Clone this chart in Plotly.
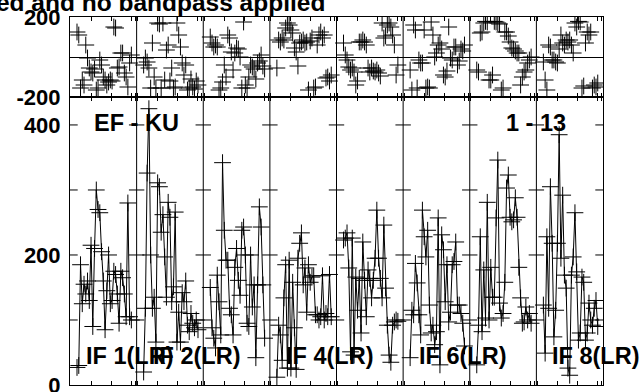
import plotly.graph_objects as go
import numpy as np

# amplitude per channel, one list per IF
amp_if1 = [27, 30, 185, 125, 155, 140, 160, 130, 215, 90, 210, 300, 270, 265, 205, 160,
           85, 145, 200, 125, 130, 175, 170, 140, 95, 175, 165, 140, 105, 280, 105, 100]
amp_if2 = [20, 118, 326, 425, 200, 118, 135, 66, 311, 305, 235, 262, 197, 135, 281, 258,
           128, 151, 266, 66, 112, 66, 142, 128, 160, 92, 82, 110, 95, 88, 100, 85]
amp_if3 = [150, 88, 72, 57, 169, 128, 77, 342, 238, 192, 192, 118, 108, 77, 181, 210,
           161, 138, 238, 243, 200, 95, 90, 200, 120, 154, 42, 154, 274, 243, 154, 72]
amp_if4 = [12, 92, 77, 38, 134, 185, 26, 192, 26, 158, 88, 24, 195, 218, 234, 154,
           180, 112, 185, 158, 166, 168, 108, 108, 100, 105, 168, 100, 110, 105, 170, 105]
amp_if5 = [223, 226, 234, 180, 51, 226, 46, 166, 115, 164, 80, 220, 161, 105, 177, 164,
           134, 161, 195, 269, 195, 164, 134, 246, 149, 92, 46, 35, 92, 97, 100, 98]
amp_if6 = [42, 115, 108, 187, 157, 108, 77, 269, 228, 197, 238, 123, 80, 92, 62, 82,
           257, 31, 231, 208, 128, 185, 97, 112, 185, 190, 220, 123, 123, 110, 95, 60]
amp_if7 = [31, 92, 228, 82, 177, 103, 281, 100, 181, 135, 135, 257, 346, 126, 103, 110,
           158, 303, 323, 258, 251, 254, 288, 258, 181, 134, 95, 97, 120, 100, 110, 95]
amp_if8 = [123, 49, 228, 118, 305, 218, 74, 115, 218, 385, 195, 292, 169, 149, 26, 15,
           169, 197, 265, 174, 69, 80, 166, 158, 69, 80, 126, 100, 92, 118, 130, 90]

# phase per channel (degrees)
ph_if1 = [125, 110, -155, -115, -140, 60, -5, -55, -75, -80, -60, -165, -155, -15, -40, -100,
          -115, -140, -125, -115, -120, 150, 145, -55, -50, 20, 20, -80, -100, -150, -30, 10]
ph_if2 = [-40, -5, -25, -55, -155, 70, -100, -155, 170, 165, -155, 170, -115, 35, 60, -120,
          -55, -155, -150, 170, 110, 50, -30, -90, -40, -165, -155, -110, -150, -160, -120, -140]
ph_if3 = [100, 70, 50, 60, 50, -165, -155, -125, -40, -100, 110, 95, 25, -65, 20, 45,
          40, 0, -155, 175, -140, -155, -100, -40, -50, -60, -110, -30, -20, 10, -45, -60]
ph_if4 = [-55, 85, 75, 95, 85, 145, 170, 160, 135, 120, 45, 25, -45, 70, 75, 85,
          70, 75, -165, 80, 95, -155, -150, 60, 110, 125, 95, 110, -105, -100, -120, -90]
ph_if5 = [70, 10, -15, -50, -65, -55, -75, -140, -120, 75, 75, 85, 75, 60, -55, -75,
          -55, -70, -75, -65, -80, -95, 170, 95, 105, 160, 170, 150, 110, 60, -90, -40]
ph_if6 = [-65, -165, 160, 135, -155, -15, -30, -30, 135, -155, -150, -155, 175, 110, 0, 20,
          60, 70, 40, -90, -100, -70, 150, -5, -15, 50, 50, -40, -20, 40, 30, 60]
ph_if7 = [-65, -75, 120, 125, 170, 178, 175, -115, -115, -90, 178, 175, 170, 165, -165, -155,
          125, 125, 105, 75, 45, 40, 30, 20, 20, -140, -100, -75, -65, -30, -15, 0]
ph_if8 = [-25, -115, -165, 60, 50, -15, -15, -25, -30, 40, 110, 70, 60, 85, 75, 85,
          60, 20, 170, 150, 178, 175, -155, -145, 70, 125, 110, 125, -155, -140, -150, -130]

amps = [amp_if1, amp_if2, amp_if3, amp_if4, amp_if5, amp_if6, amp_if7, amp_if8]
phases = [ph_if1, ph_if2, ph_if3, ph_if4, ph_if5, ph_if6, ph_if7, ph_if8]
if_labels = ["IF 1(LR)", "IF 2(LR)", "", "IF 4(LR)", "", "IF 6(LR)", "", "IF 8(LR)"]
amp_ticks = [100, 200, 300, 400]

nif = len(amps)
nchan = len(amp_if1)
W = 38.0      # x units per IF box
off = 4       # first channel offset inside box
panel_px = 533 / nif

font = dict(family="Liberation Sans, Arial, sans-serif", size=22, color="black", weight="bold")
label_font = dict(font, size=23.5)
title_font = dict(font, size=24.5)
cross = dict(symbol="cross-thin", size=12, color="black", line=dict(color="black", width=1))

fig = go.Figure()

for i in range(nif):
    x = i * W + off + np.arange(nchan)
    fig.add_trace(go.Scatter(x=x, y=amps[i], mode="lines+markers",
                             line=dict(color="black", width=1), marker=cross,
                             xaxis="x", yaxis="y", hoverinfo="skip"))
    fig.add_trace(go.Scatter(x=x, y=phases[i], mode="markers", marker=cross,
                             xaxis="x2", yaxis="y2", hoverinfo="skip"))

# box boundaries and tick marks on them
bounds = [i * W for i in range(nif + 1)]
bx, by = [], []
for b in bounds:
    for t in amp_ticks:
        bx.append(b)
        by.append(t)
fig.add_trace(go.Scatter(x=bx, y=by, mode="markers", xaxis="x", yaxis="y", hoverinfo="skip",
                         marker=dict(symbol="line-ew", size=11, line=dict(color="black", width=1))))

for b in bounds[1:-1]:
    fig.add_shape(type="line", xref="x", yref="paper", x0=b, x1=b, y0=0, y1=1,
                  line=dict(color="black", width=1))

xticks = []
for i in range(nif):
    for p in [1, 21, 41, 61, 65]:
        xticks.append(i * W + p / panel_px * W)

axis_common = dict(showline=True, linecolor="black", linewidth=1, showgrid=False,
                   zeroline=False, ticks="inside", ticklen=4, tickcolor="black")

split = (385 - 97) / 368

# figure a bit taller than the window so the "0" label is not dropped at the edge
fig.update_layout(
    width=640, height=400,
    margin=dict(l=70, r=37, t=17, b=15),
    plot_bgcolor="white", paper_bgcolor="white",
    showlegend=False,
    xaxis=dict(axis_common, range=[0, nif * W], anchor="y", tickvals=xticks,
               showticklabels=False, mirror="allticks", automargin=False),
    xaxis2=dict(axis_common, range=[0, nif * W], anchor="y2", matches="x", tickvals=xticks,
                showticklabels=False, mirror="allticks", automargin=False),
    yaxis=dict(showline=True, linecolor="black", mirror=True, showgrid=False, zeroline=False,
               domain=[0, split], range=[0, 443], tickvals=[0, 200, 400],
               ticktext=["0", "200", "400"], ticks="",
               tickfont=font, ticklabelstandoff=4, automargin=False),
    yaxis2=dict(showline=True, linecolor="black", mirror=True, showgrid=False,
                zeroline=True, zerolinecolor="black", zerolinewidth=1,
                domain=[split, 1], range=[-200, 200], tickvals=[-200, 200],
                ticktext=["-200", "200"], ticks="",
                tickfont=font, ticklabelstandoff=4, automargin=False),
)

def px_x(p):
    return (p - 70) / 533

def px_y(p):
    return (385 - p) / 368

fig.add_annotation(text="Calibration applied and no bandpass applied", xref="paper", yref="paper",
                   x=px_x(327), y=px_y(2), xanchor="right", yanchor="middle",
                   showarrow=False, font=title_font)
fig.add_annotation(text="EF - KU", xref="paper", yref="paper", x=px_x(136), y=px_y(123),
                   xanchor="center", yanchor="middle", showarrow=False, font=label_font)
fig.add_annotation(text="1 - 13", xref="paper", yref="paper", x=px_x(536), y=px_y(123),
                   xanchor="center", yanchor="middle", showarrow=False, font=label_font)
for i, lab in enumerate(if_labels):
    if lab:
        fig.add_annotation(text=lab, xref="x", yref="paper", x=i * W + 14 / panel_px * W,
                           y=px_y(356), xanchor="left", yanchor="middle",
                           showarrow=False, font=label_font)

# drop the default 8px page margin so the figure sits at the window corner
fig.write_html("out.html", config={"displayModeBar": False},
               post_script="document.body.style.margin = '0';")
